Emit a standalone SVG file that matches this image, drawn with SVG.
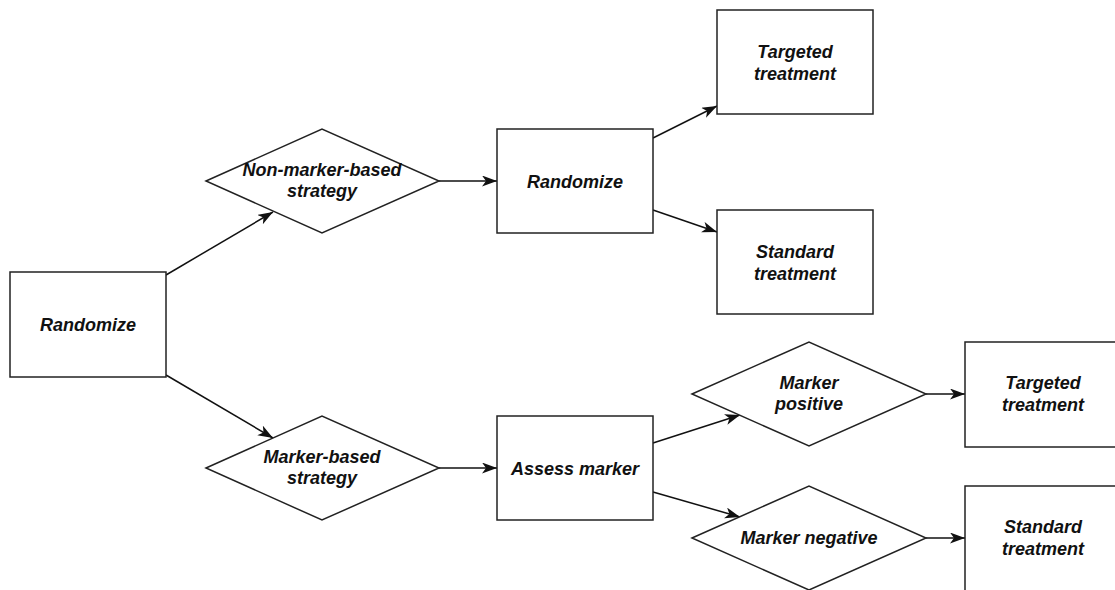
<svg xmlns="http://www.w3.org/2000/svg" width="1115" height="590" viewBox="0 0 1115 590">
<style>
.s{fill:#fff;stroke:#222;stroke-width:1.5}
.t{font-family:"Liberation Sans",Arial,sans-serif;font-weight:bold;font-style:italic;font-size:18px;fill:#111;text-anchor:middle}
.c{fill:none;stroke:#111;stroke-width:1.5}
</style>
<defs>
<marker id="a" markerUnits="userSpaceOnUse" markerWidth="18" markerHeight="14" refX="15" refY="5.5" orient="auto">
<path d="M0,0 L15,5.5 L0,11 L4,5.5 z" fill="#111"/>
</marker>
</defs>
<rect width="1115" height="590" fill="#fff"/>
<g id="connectors">
<line class="c" x1="166" y1="275" x2="273" y2="212" marker-end="url(#a)"/>
<line class="c" x1="166" y1="375" x2="273" y2="438" marker-end="url(#a)"/>
<line class="c" x1="439" y1="181" x2="497" y2="181" marker-end="url(#a)"/>
<line class="c" x1="439" y1="468" x2="497" y2="468" marker-end="url(#a)"/>
<line class="c" x1="653" y1="138" x2="717" y2="106" marker-end="url(#a)"/>
<line class="c" x1="653" y1="210" x2="717" y2="232" marker-end="url(#a)"/>
<line class="c" x1="653" y1="443" x2="740" y2="415" marker-end="url(#a)"/>
<line class="c" x1="653" y1="492" x2="740" y2="517" marker-end="url(#a)"/>
<line class="c" x1="926" y1="394" x2="965" y2="394" marker-end="url(#a)"/>
<line class="c" x1="926" y1="538" x2="965" y2="538" marker-end="url(#a)"/>
</g>
<g id="randomize1">
<rect class="s" x="10" y="272" width="156" height="105"/>
<text class="t" x="88" y="331">Randomize</text>
</g>
<g id="nonmarker">
<polygon class="s" points="206,181 322,129 439,181 322,233"/>
<text class="t" x="322" y="176">Non-marker-based</text>
<text class="t" x="322" y="197">strategy</text>
</g>
<g id="marker">
<polygon class="s" points="206,468 322,416 439,468 322,520"/>
<text class="t" x="322" y="463">Marker-based</text>
<text class="t" x="322" y="484">strategy</text>
</g>
<g id="randomize2">
<rect class="s" x="497" y="129" width="156" height="104"/>
<text class="t" x="575" y="188">Randomize</text>
</g>
<g id="assess">
<rect class="s" x="497" y="416" width="156" height="104"/>
<text class="t" x="575" y="475">Assess marker</text>
</g>
<g id="targeted1">
<rect class="s" x="717" y="10" width="156" height="104"/>
<text class="t" x="795" y="58">Targeted</text>
<text class="t" x="795" y="80">treatment</text>
</g>
<g id="standard1">
<rect class="s" x="717" y="210" width="156" height="104"/>
<text class="t" x="795" y="258">Standard</text>
<text class="t" x="795" y="280">treatment</text>
</g>
<g id="markerpos">
<polygon class="s" points="692,394 809,342 926,394 809,446"/>
<text class="t" x="809" y="389">Marker</text>
<text class="t" x="809" y="410">positive</text>
</g>
<g id="markerneg">
<polygon class="s" points="692,538 809,486 926,538 809,590"/>
<text class="t" x="809" y="544">Marker negative</text>
</g>
<g id="targeted2">
<rect class="s" x="965" y="342" width="156" height="105"/>
<text class="t" x="1043" y="389">Targeted</text>
<text class="t" x="1043" y="411">treatment</text>
</g>
<g id="standard2">
<rect class="s" x="965" y="486" width="156" height="110"/>
<text class="t" x="1043" y="533">Standard</text>
<text class="t" x="1043" y="555">treatment</text>
</g>
</svg>
